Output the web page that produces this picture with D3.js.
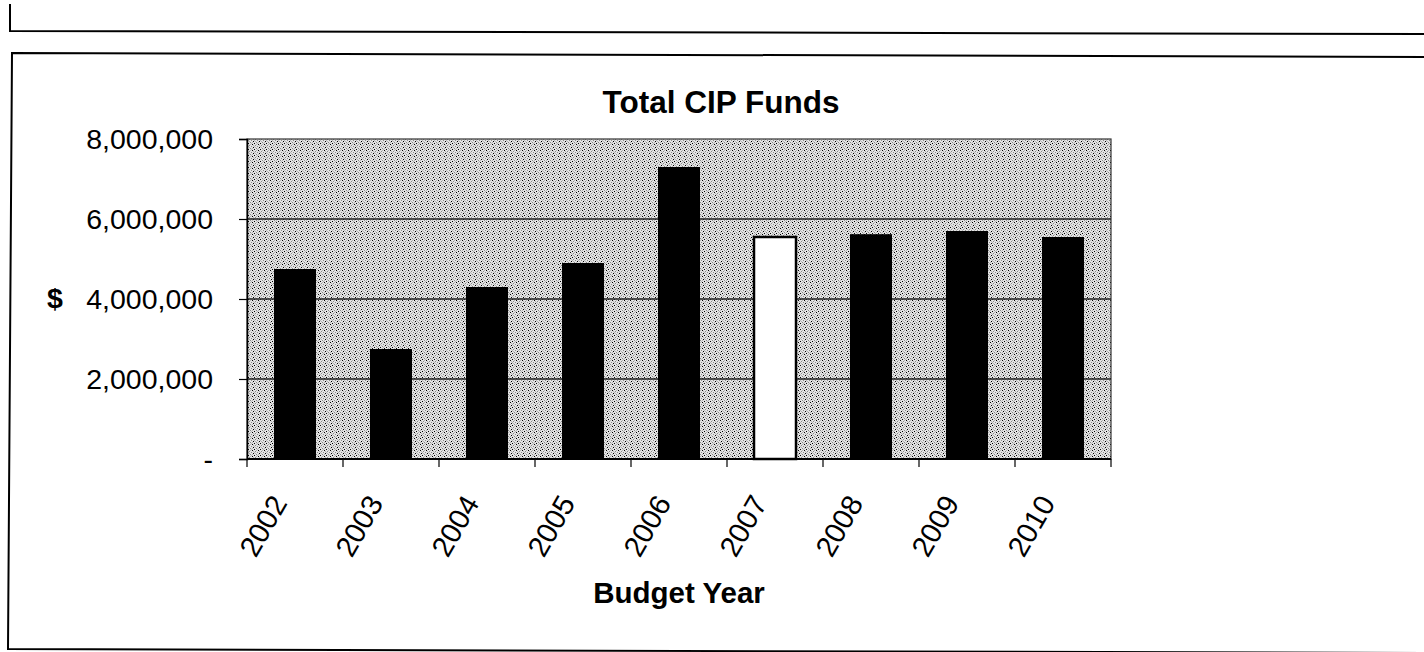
<!DOCTYPE html>
<html>
<head>
<meta charset="utf-8">
<script src="https://cdn.jsdelivr.net/npm/d3@7"></script>
<style>
  html, body { margin: 0; padding: 0; background: #fff; }
  svg { display: block; }
  text { font-family: "Liberation Sans", Arial, sans-serif; fill: #000; }
</style>
</head>
<body>
<svg id="chart" width="1424" height="652"></svg>
<script>
// Budget years and total capital improvement program funds
const years = ["2002", "2003", "2004", "2005", "2006", "2007", "2008", "2009", "2010"];
const funds = [4750000, 2750000, 4300000, 4900000, 7300000, 5550000, 5620000, 5700000, 5550000];
// Years drawn as hollow bars
const hollowYears = ["2007"];
const yTicks = [0, 2000000, 4000000, 6000000, 8000000];
const yTickLabels = ["-", "2,000,000", "4,000,000", "6,000,000", "8,000,000"];

const svg = d3.select("#chart");

// Outer frames
const frame = svg.append("g").attr("fill", "none").attr("stroke", "#000").attr("stroke-width", 2);
frame.append("path").attr("d", "M10,4 L10,31 L1424,34");
frame.append("path").attr("d", "M1424,57 L12,53 L8,649 L1424,653");

const plot = { left: 247, right: 1111, top: 139, bottom: 459 };

const x = d3.scaleBand()
  .domain(years)
  .range([plot.left, plot.right])
  .paddingInner(0.5625)
  .paddingOuter(0.28125);

const y = d3.scaleLinear()
  .domain([0, 8000000])
  .range([plot.bottom, plot.top]);

// Stippled plot-area fill
const defs = svg.append("defs");
const pat = defs.append("pattern")
  .attr("id", "stipple")
  .attr("patternUnits", "userSpaceOnUse")
  .attr("width", 6).attr("height", 6);
pat.append("rect").attr("width", 6).attr("height", 6).attr("fill", "#e4e4e4");
[[0,0],[3,1],[1,3],[4,4],[2,5],[5,2]].forEach(([px, py], i) => {
  pat.append("rect").attr("x", px).attr("y", py).attr("width", 1).attr("height", 1)
    .attr("fill", i % 2 === 0 ? "#000" : "#8a8a8a");
});
[[1,1],[4,0],[0,4],[3,3],[5,5],[2,2]].forEach(([px, py]) => {
  pat.append("rect").attr("x", px).attr("y", py).attr("width", 1).attr("height", 1)
    .attr("fill", "#b4b4b4");
});

svg.append("rect")
  .attr("x", plot.left).attr("y", plot.top)
  .attr("width", plot.right - plot.left).attr("height", plot.bottom - plot.top)
  .attr("fill", "url(#stipple)")
  .attr("stroke", "#333").attr("stroke-width", 1.2);

// Horizontal gridlines
svg.append("g")
  .selectAll("line")
  .data(yTicks.filter(v => v > 0 && v < 8000000))
  .join("line")
  .attr("x1", plot.left).attr("x2", plot.right)
  .attr("y1", d => y(d)).attr("y2", d => y(d))
  .attr("stroke", "#222").attr("stroke-width", 1.5);

// Bars
svg.append("g")
  .selectAll("rect")
  .data(years.map((yr, i) => ({ yr, v: funds[i] })))
  .join("rect")
  .attr("x", d => x(d.yr))
  .attr("width", x.bandwidth())
  .attr("y", d => y(d.v))
  .attr("height", d => y(0) - y(d.v))
  .attr("fill", d => hollowYears.includes(d.yr) ? "#fff" : "#000")
  .attr("stroke", "#000")
  .attr("stroke-width", d => hollowYears.includes(d.yr) ? 2.5 : 0);

// Y axis
const yAxis = d3.axisLeft(y)
  .tickValues(yTicks)
  .tickFormat((d, i) => yTickLabels[i])
  .tickSize(8)
  .tickPadding(26);
const gy = svg.append("g")
  .attr("transform", `translate(${plot.left},0)`)
  .call(yAxis);
gy.select(".domain").attr("stroke", "#000").attr("stroke-width", 1.5);
gy.selectAll(".tick line").attr("stroke", "#000").attr("stroke-width", 1.2);
gy.selectAll(".tick text")
  .style("font-family", "'Liberation Sans', Arial, sans-serif")
  .style("font-size", "28.5px")
  .attr("dy", "0.33em")
  .attr("fill", "#000");

// X axis: ticks at category boundaries
const step = x.step();
const boundaries = years.map(yr => x(yr) + x.bandwidth() / 2 - step / 2).concat([plot.right]);
svg.append("line")
  .attr("x1", plot.left).attr("x2", plot.right)
  .attr("y1", plot.bottom).attr("y2", plot.bottom)
  .attr("stroke", "#000").attr("stroke-width", 2);
svg.append("g")
  .selectAll("line")
  .data(boundaries)
  .join("line")
  .attr("x1", d => d).attr("x2", d => d)
  .attr("y1", plot.bottom).attr("y2", plot.bottom + 8)
  .attr("stroke", "#000").attr("stroke-width", 1.2);

// Rotated year labels
svg.append("g")
  .selectAll("text")
  .data(years)
  .join("text")
  .attr("transform", d => `translate(${x(d) + x.bandwidth() / 2 - 7},${plot.bottom + 44}) rotate(-60)`)
  .attr("text-anchor", "end")
  .style("font-size", "29px")
  .text(d => d);

// Titles
svg.append("text")
  .attr("x", 721).attr("y", 113)
  .attr("text-anchor", "middle")
  .style("font-size", "31.5px").style("font-weight", "bold")
  .text("Total CIP Funds");

svg.append("text")
  .attr("x", 679).attr("y", 603)
  .attr("text-anchor", "middle")
  .style("font-size", "29.5px").style("font-weight", "bold")
  .text("Budget Year");

svg.append("text")
  .attr("x", 47).attr("y", y(4000000) + 9)
  .style("font-size", "28.5px").style("font-weight", "bold")
  .text("$");
</script>
</body>
</html>
